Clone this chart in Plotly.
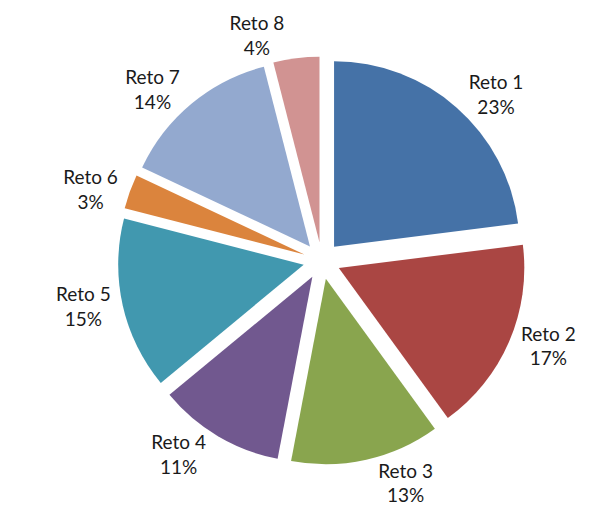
import plotly.graph_objects as go

labels = ["Reto 1", "Reto 2", "Reto 3", "Reto 4", "Reto 5", "Reto 6", "Reto 7", "Reto 8"]
values = [23, 17, 13, 11, 15, 3, 14, 4]
colors = ["#4572A7", "#AA4643", "#89A54E", "#71588F", "#4198AF", "#DB843D", "#93A9CF", "#D19392"]

fig = go.Figure(go.Pie(
    labels=labels,
    values=values,
    sort=False,
    direction="clockwise",
    rotation=0,
    pull=[0.1] * len(values),
    marker=dict(colors=colors, line=dict(width=0)),
    textposition="outside",
    texttemplate="%{label}<br>%{percent:.0%}",
    outsidetextfont=dict(family="Lato", size=19, color="#1a1a1a"),
    automargin=False,
    hoverinfo="label+percent",
    domain=dict(x=[0.181, 0.865], y=[0.108, 0.905]),
    showlegend=False,
))

fig.update_layout(
    width=600, height=512,
    margin=dict(l=0, r=0, t=0, b=0),
    paper_bgcolor="white",
    plot_bgcolor="white",
)

fig.write_html("out.html")
